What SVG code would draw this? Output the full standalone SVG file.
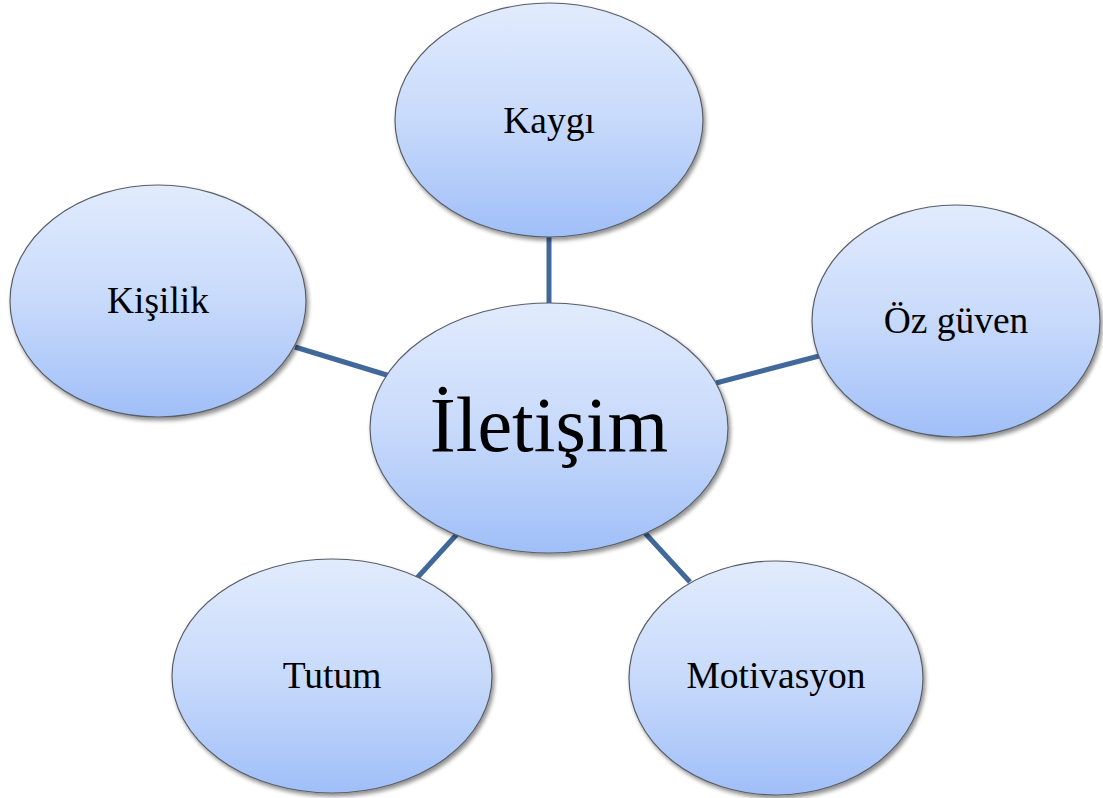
<svg xmlns="http://www.w3.org/2000/svg" width="1103" height="798" viewBox="0 0 1103 798">
  <defs>
    <linearGradient id="bubbleFill" x1="0" y1="0" x2="0" y2="1">
      <stop offset="0" stop-color="#e1ebfd"/>
      <stop offset="0.5" stop-color="#c8dafb"/>
      <stop offset="1" stop-color="#a0bff8"/>
    </linearGradient>
    <filter id="softShadow" x="-10%" y="-10%" width="125%" height="125%">
      <feGaussianBlur in="SourceAlpha" stdDeviation="2"/>
      <feOffset dx="1.5" dy="2.5" result="blur"/>
      <feComponentTransfer><feFuncA type="linear" slope="0.45"/></feComponentTransfer>
      <feMerge><feMergeNode/><feMergeNode in="SourceGraphic"/></feMerge>
    </filter>
  </defs>
  <style>
    .bubble { fill: url(#bubbleFill); stroke: #5a5f66; stroke-width: 1.2; filter: url(#softShadow); }
    .label { font-family: "Liberation Serif", "Times New Roman", serif; fill: #000; text-anchor: middle; }
    .small { font-size: 37.5px; }
    .big { font-size: 78px; }
    .link { stroke: #41689a; stroke-width: 5; fill: none; }
  </style>

  <rect width="1103" height="798" fill="#ffffff"/>

  <g id="connectors">
    <line class="link" x1="549" y1="236" x2="549" y2="304"/>
    <line class="link" x1="295" y1="347" x2="390" y2="376"/>
    <line class="link" x1="716" y1="383" x2="819" y2="356"/>
    <line class="link" x1="417" y1="578" x2="458" y2="533"/>
    <line class="link" x1="645" y1="533" x2="690" y2="582"/>
  </g>

  <g id="node-kaygi">
    <ellipse class="bubble" cx="549" cy="120" rx="154" ry="117"/>
    <text class="label small" x="549" y="133">Kaygı</text>
  </g>

  <g id="node-kisilik">
    <ellipse class="bubble" cx="158" cy="301" rx="148" ry="116"/>
    <text class="label small" x="158" y="313">Kişilik</text>
  </g>

  <g id="node-oz-guven">
    <ellipse class="bubble" cx="956" cy="321" rx="144" ry="116"/>
    <text class="label small" x="956" y="333">Öz güven</text>
  </g>

  <g id="node-tutum">
    <ellipse class="bubble" cx="332" cy="676" rx="160" ry="117"/>
    <text class="label small" x="332" y="688">Tutum</text>
  </g>

  <g id="node-motivasyon">
    <ellipse class="bubble" cx="776" cy="678" rx="147" ry="117"/>
    <text class="label small" x="776" y="688">Motivasyon</text>
  </g>

  <g id="node-iletisim">
    <ellipse class="bubble" cx="549" cy="428" rx="179" ry="125"/>
    <text class="label big" x="549" y="451">İletişim</text>
  </g>
</svg>
